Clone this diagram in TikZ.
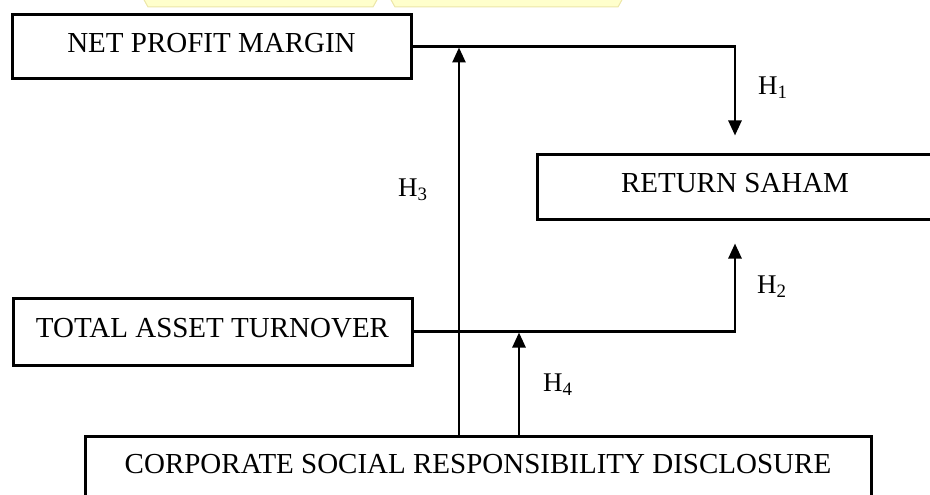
\documentclass[tikz,border=0pt]{standalone}
\usepackage{fontspec}
\setmainfont{Liberation Serif}
\usepackage{xcolor}
\usetikzlibrary{arrows.meta}

\definecolor{wmfill}{RGB}{255,255,204}
\definecolor{wmline}{RGB}{236,230,168}

\begin{document}
\begin{tikzpicture}[x=1pt,y=-1pt,
    var/.style={draw,line width=3pt,inner sep=0pt,minimum height=64pt,
      text height=20pt,text depth=8pt,font=\fontsize{29}{34}\selectfont},
    hyp/.style={anchor=west,inner sep=0pt,font=\fontsize{27}{32}\selectfont},
    link/.style={line width=2.6pt},
    >={Triangle[length=15pt,width=13pt]}]
  \useasboundingbox (0,0) rectangle (930,495);
  % what is left of the logo above the figure
  \filldraw[fill=wmfill,draw=wmline,line width=1pt]
    (143,-2) -- (148,7) -- (373,7) -- (378,-2) -- cycle;
  \filldraw[fill=wmfill,draw=wmline,line width=1pt]
    (390,-2) -- (395,7) -- (618,7) -- (623,-2) -- cycle;

  \node[var,minimum width=399pt] (npm) at (211.5,46.5) {NET PROFIT MARGIN};
  \node[var,minimum width=395pt,minimum height=65pt] (rs) at (735,186.5) {RETURN SAHAM};
  \node[var,minimum width=399pt,minimum height=67pt] (tat) at (212.5,331.5) {TOTAL ASSET TURNOVER};
  \node[var,anchor=north,minimum width=786pt,text height=37pt,text depth=30pt]
    (csr) at (478,435) {CORPORATE SOCIAL RESPONSIBILITY DISCLOSURE};

  \draw[link,->] (npm.east) -| ([yshift=17pt]rs.north);
  \draw[link,->] (tat.east) -| ([yshift=-23pt]rs.south);
  \draw[link,->,shorten >=1pt] ([xshift=-19pt]csr.north) -- ([xshift=-19pt]csr.north |- npm.east);
  \draw[link,->,shorten >=1pt] ([xshift=41pt]csr.north) -- ([xshift=41pt]csr.north |- tat.east);

  \node[hyp] (h1) at (758,88) {H\textsubscript{1}};
  \node[hyp] (h2) at (757,287) {H\textsubscript{2}};
  \node[hyp] (h3) at (398,190) {H\textsubscript{3}};
  \node[hyp] (h4) at (543,385) {H\textsubscript{4}};
\end{tikzpicture}
\end{document}
